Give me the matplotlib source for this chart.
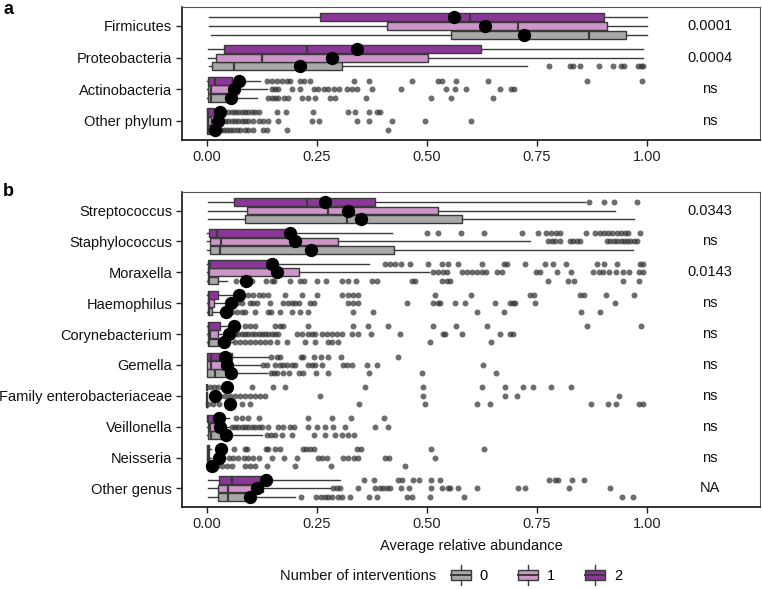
import matplotlib
matplotlib.use("Agg")
import matplotlib.pyplot as plt
from matplotlib.patches import Rectangle
from matplotlib.lines import Line2D
from matplotlib.legend_handler import HandlerBase

plt.rcParams['font.family'] = ['Liberation Sans', 'DejaVu Sans']

groups = ["0", "1", "2"]
group_colors = ["#A8A8A8", "#CE95C9", "#8B3797"]

# ---------------- panel a data (columns = groups 0, 1, 2) ----------------
a_categories = ["Firmicutes", "Proteobacteria", "Actinobacteria", "Other phylum"]
a_pvalues = ["0.0001", "0.0004", "ns", "ns"]
a_wlo = [[0.009, 0.005, 0.005], [0.005, 0.002, 0.002], [0.0, 0.0, 0.0], [0.0, 0.0, 0.0]]
a_q1 = [[0.555, 0.409, 0.257], [0.012, 0.020, 0.039], [0.002, 0.002, 0.002], [0.0, 0.0, 0.0]]
a_med = [[0.868, 0.707, 0.598], [0.062, 0.124, 0.227], [0.009, 0.009, 0.018], [0.002, 0.003, 0.002]]
a_q3 = [[0.952, 0.909, 0.902], [0.307, 0.502, 0.622], [0.048, 0.050, 0.056], [0.010, 0.010, 0.016]]
a_whi = [[1.0, 1.0, 1.0], [0.727, 0.99, 0.99], [0.113, 0.136, 0.12], [0.03, 0.03, 0.04]]
a_mean = [[0.720, 0.632, 0.561], [0.211, 0.285, 0.341], [0.055, 0.062, 0.073], [0.018, 0.024, 0.030]]
a_out = [
    [[], [], []],
    [[0.777, 0.825, 0.833, 0.848, 0.891, 0.923, 0.940, 0.948, 0.980, 0.986, 0.992], [], []],
    [[0.139, 0.147, 0.155, 0.162, 0.174, 0.185, 0.215, 0.230, 0.245, 0.280, 0.291, 0.361, 0.509, 0.554, 0.651],
     [0.147, 0.155, 0.162, 0.192, 0.211, 0.242, 0.253, 0.265, 0.276, 0.288, 0.299, 0.318, 0.329, 0.340, 0.374,
      0.440, 0.543, 0.564, 0.589, 0.667, 0.691, 0.698],
     [0.136, 0.147, 0.158, 0.170, 0.181, 0.189, 0.211, 0.220, 0.234, 0.333, 0.367, 0.467, 0.524, 0.535, 0.567,
      0.638, 0.863, 0.988]],
    [[0.031, 0.038, 0.045, 0.053, 0.060, 0.068, 0.075, 0.086, 0.094, 0.105, 0.128, 0.136, 0.181, 0.412],
     [0.033, 0.041, 0.048, 0.056, 0.064, 0.071, 0.079, 0.086, 0.094, 0.105, 0.117, 0.128, 0.139, 0.162, 0.239,
      0.254, 0.340, 0.367, 0.420, 0.495, 0.599],
     [0.048, 0.056, 0.064, 0.071, 0.079, 0.086, 0.094, 0.101, 0.109, 0.117, 0.159, 0.180, 0.240, 0.321, 0.336,
      0.367, 0.386, 0.393]],
]

# ---------------- panel b data (columns = groups 0, 1, 2) ----------------
b_categories = ["Streptococcus", "Staphylococcus", "Moraxella", "Haemophilus", "Corynebacterium",
                "Gemella", "Family enterobacteriaceae", "Veillonella", "Neisseria", "Other genus"]
b_pvalues = ["0.0343", "ns", "0.0143", "ns", "ns", "ns", "ns", "ns", "ns", "NA"]
b_wlo = [[0.002, 0.002, 0.002], [0.0, 0.0, 0.0], [0.0, 0.0, 0.0], [0.0, 0.0, 0.0], [0.0, 0.0, 0.0],
         [0.0, 0.0, 0.0], [0.0, 0.0, 0.0], [0.0, 0.0, 0.0], [0.0, 0.0, 0.0], [0.003, 0.003, 0.003]]
b_q1 = [[0.086, 0.090, 0.062], [0.007, 0.007, 0.005], [0.002, 0.003, 0.003], [0.002, 0.002, 0.002],
        [0.002, 0.002, 0.002], [0.0, 0.0, 0.0], [0.0, 0.0, 0.0], [0.002, 0.002, 0.0], [0.0, 0.0, 0.0],
        [0.024, 0.024, 0.028]]
b_med = [[0.317, 0.276, 0.227], [0.030, 0.032, 0.023], [0.004, 0.005, 0.007], [0.004, 0.005, 0.005],
         [0.005, 0.006, 0.005], [0.018, 0.010, 0.010], [0.0, 0.0, 0.0], [0.010, 0.006, 0.003],
         [0.001, 0.001, 0.001], [0.047, 0.047, 0.056]]
b_q3 = [[0.579, 0.524, 0.382], [0.425, 0.298, 0.181], [0.024, 0.208, 0.140], [0.012, 0.016, 0.024],
        [0.025, 0.025, 0.030], [0.050, 0.052, 0.057], [0.0, 0.0, 0.0], [0.032, 0.020, 0.015],
        [0.005, 0.005, 0.005], [0.088, 0.128, 0.123]]
b_whi = [[0.971, 0.927, 0.859], [0.969, 0.735, 0.420], [0.045, 0.505, 0.369], [0.040, 0.050, 0.060],
         [0.060, 0.060, 0.065], [0.136, 0.120, 0.139], [0.0, 0.0, 0.0], [0.124, 0.050, 0.050],
         [0.010, 0.010, 0.010], [0.200, 0.280, 0.302]]
b_mean = [[0.350, 0.321, 0.268], [0.236, 0.200, 0.189], [0.088, 0.158, 0.147], [0.042, 0.055, 0.073],
          [0.039, 0.050, 0.061], [0.055, 0.045, 0.041], [0.051, 0.018, 0.045], [0.042, 0.030, 0.026],
          [0.011, 0.026, 0.032], [0.098, 0.113, 0.134]]
b_out = [
    [[], [], [0.869, 0.902, 0.926, 0.977]],
    [[],
     [0.776, 0.784, 0.791, 0.802, 0.825, 0.832, 0.840, 0.848, 0.909, 0.917, 0.924, 0.932, 0.940, 0.947, 0.955,
      0.962, 0.970, 0.978],
     [0.499, 0.524, 0.577, 0.630, 0.717, 0.753, 0.770, 0.781, 0.793, 0.802, 0.861, 0.882, 0.893, 0.902, 0.912,
      0.921, 0.931, 0.940, 0.950, 0.958, 0.984]],
    [[0.065, 0.079, 0.094, 0.103, 0.133, 0.148, 0.153, 0.189, 0.211, 0.221, 0.249, 0.270, 0.306, 0.321, 0.339,
      0.374, 0.386, 0.465, 0.473, 0.533, 0.545, 0.552, 0.776, 0.820, 0.835, 0.945, 0.983],
     [0.514, 0.526, 0.537, 0.545, 0.579, 0.590, 0.602, 0.613, 0.624, 0.634, 0.658, 0.671, 0.748, 0.757, 0.796,
      0.827, 0.878, 0.892, 0.901, 0.914, 0.930, 0.946, 0.960, 0.982, 0.992],
     [0.405, 0.416, 0.427, 0.442, 0.461, 0.503, 0.533, 0.548, 0.571, 0.624, 0.674, 0.681, 0.723, 0.768, 0.787,
      0.816, 0.886, 0.903, 0.931, 0.984, 0.992]],
    [[0.056, 0.067, 0.079, 0.086, 0.108, 0.138, 0.145, 0.166, 0.192, 0.211, 0.230, 0.332, 0.378, 0.613, 0.676,
      0.850, 0.893],
     [0.067, 0.079, 0.098, 0.105, 0.113, 0.143, 0.173, 0.185, 0.192, 0.200, 0.208, 0.234, 0.242, 0.321, 0.332,
      0.344, 0.454, 0.514, 0.526, 0.530, 0.564, 0.586, 0.655, 0.689, 0.695, 0.700, 0.745, 0.927],
     [0.079, 0.094, 0.105, 0.117, 0.128, 0.139, 0.177, 0.215, 0.249, 0.306, 0.321, 0.332, 0.344, 0.518, 0.599,
      0.734, 0.744, 0.848, 0.857, 0.906, 0.971]],
    [[0.064, 0.075, 0.086, 0.098, 0.109, 0.120, 0.132, 0.143, 0.159, 0.181, 0.223, 0.245, 0.276, 0.283, 0.298,
      0.507, 0.645],
     [0.064, 0.071, 0.079, 0.086, 0.094, 0.102, 0.109, 0.117, 0.124, 0.132, 0.139, 0.147, 0.155, 0.162, 0.204,
      0.215, 0.230, 0.238, 0.245, 0.261, 0.272, 0.283, 0.295, 0.306, 0.329, 0.344, 0.373, 0.439, 0.537, 0.541,
      0.579, 0.666, 0.689, 0.695],
     [0.071, 0.086, 0.098, 0.108, 0.155, 0.166, 0.173, 0.230, 0.332, 0.365, 0.411, 0.514, 0.566, 0.636, 0.863,
      0.986]],
    [[0.145, 0.153, 0.160, 0.172, 0.187, 0.210, 0.218, 0.248, 0.276, 0.367, 0.489, 0.657],
     [0.128, 0.136, 0.155, 0.166, 0.173, 0.181, 0.192, 0.200, 0.230, 0.238, 0.245, 0.261, 0.310, 0.317, 0.329,
      0.363, 0.386, 0.627],
     [0.145, 0.158, 0.166, 0.214, 0.219, 0.242, 0.259, 0.276, 0.304, 0.433]],
    [[0.003, 0.014, 0.026, 0.079, 0.098, 0.346, 0.495, 0.614, 0.643, 0.872, 0.911, 0.930, 0.983, 0.992],
     [0.030, 0.041, 0.052, 0.064, 0.075, 0.086, 0.098, 0.109, 0.120, 0.132, 0.257, 0.490, 0.677, 0.705, 0.937],
     [0.007, 0.015, 0.025, 0.102, 0.149, 0.177, 0.359, 0.492, 0.626, 0.677, 0.719, 0.740, 0.783, 0.827]],
    [[0.136, 0.145, 0.155, 0.171, 0.192, 0.242, 0.268, 0.291, 0.306, 0.320, 0.333],
     [0.056, 0.064, 0.071, 0.079, 0.086, 0.094, 0.102, 0.109, 0.117, 0.124, 0.139, 0.161, 0.173, 0.189, 0.198,
      0.230, 0.249, 0.268, 0.287, 0.314, 0.382, 0.412],
     [0.065, 0.079, 0.092, 0.117, 0.230, 0.285, 0.327, 0.403]],
    [[0.022, 0.033, 0.045, 0.056, 0.086, 0.098, 0.109, 0.136, 0.200, 0.282, 0.449],
     [0.037, 0.049, 0.060, 0.071, 0.083, 0.094, 0.105, 0.117, 0.148, 0.176, 0.204, 0.253, 0.261, 0.272, 0.310,
      0.321, 0.333, 0.344, 0.405, 0.414, 0.519],
     [0.062, 0.086, 0.090, 0.133, 0.139, 0.155, 0.166, 0.219, 0.226, 0.234, 0.242, 0.340, 0.349, 0.508, 0.630]],
    [[0.214, 0.247, 0.259, 0.268, 0.276, 0.285, 0.297, 0.306, 0.325, 0.367, 0.386, 0.455, 0.467, 0.507, 0.584,
      0.944, 0.969],
     [0.287, 0.295, 0.302, 0.344, 0.382, 0.393, 0.401, 0.408, 0.416, 0.442, 0.458, 0.509, 0.533, 0.548, 0.552,
      0.571, 0.613, 0.706, 0.723, 0.823, 0.916],
     [0.357, 0.380, 0.433, 0.444, 0.468, 0.481, 0.509, 0.530, 0.777, 0.791, 0.797, 0.830, 0.857]],
]

x_ticks = [0.0, 0.25, 0.5, 0.75, 1.0]
x_ticklabels = ["0.00", "0.25", "0.50", "0.75", "1.00"]

EDGE = "#3a3a3a"
OFFSETS = [0.27, 0.0, -0.27]   # group 0 lowest, group 2 on top (axis is inverted later)
BOXW = 0.25


def draw_panel(ax, cats, pvals, wlo, q1, med, q3, whi, mean, outl):
    n = len(cats)
    for ci in range(n):
        for gi in range(3):
            y = ci + 1 + OFFSETS[gi]
            st = dict(med=med[ci][gi], q1=q1[ci][gi], q3=q3[ci][gi],
                      whislo=wlo[ci][gi], whishi=whi[ci][gi], fliers=outl[ci][gi])
            kw = dict(positions=[y], widths=BOXW, patch_artist=True, showcaps=False,
                      showfliers=True, manage_ticks=False,
                      boxprops=dict(facecolor=group_colors[gi], edgecolor=EDGE, linewidth=1.0),
                      medianprops=dict(color=EDGE, linewidth=1.6),
                      whiskerprops=dict(color=EDGE, linewidth=1.0),
                      flierprops=dict(marker='o', markerfacecolor='#333333', markeredgecolor='none',
                                      alpha=0.72, markersize=4.3))
            try:
                ax.bxp([st], orientation='horizontal', **kw)
            except TypeError:
                ax.bxp([st], vert=False, **kw)
    for ci in range(n):
        for gi in range(3):
            y = ci + 1 + OFFSETS[gi]
            ax.scatter([mean[ci][gi]], [y], s=92, color='black', zorder=6, linewidths=0)
        ax.text(1.143, ci + 1, pvals[ci], ha='center', va='center', fontsize=10.5, color='#111111')
    ax.set_ylim(n + 0.6, 0.4)
    ax.set_xlim(-0.057, 1.257)
    ax.set_yticks(range(1, n + 1))
    ax.set_yticklabels(cats, fontsize=10.5, color='#111111')
    ax.set_xticks(x_ticks)
    ax.set_xticklabels(x_ticklabels, fontsize=10.5, color='#222222')
    ax.tick_params(axis='both', length=4, width=1.0, color='#222222', pad=3)
    for side in ['left', 'bottom']:
        ax.spines[side].set_linewidth(1.2)
        ax.spines[side].set_color('#111111')
    for side in ['top', 'right']:
        ax.spines[side].set_linewidth(0.8)
        ax.spines[side].set_color('#555555')


fig = plt.figure(figsize=(7.62, 5.89), dpi=100)
ax_a = fig.add_axes([182 / 762, 1 - 140 / 589, 578 / 762, 133 / 589])
ax_b = fig.add_axes([182 / 762, 1 - 507 / 589, 578 / 762, 315 / 589])

draw_panel(ax_a, a_categories, a_pvalues, a_wlo, a_q1, a_med, a_q3, a_whi, a_mean, a_out)
draw_panel(ax_b, b_categories, b_pvalues, b_wlo, b_q1, b_med, b_q3, b_whi, b_mean, b_out)

ax_b.set_xlabel("Average relative abundance", fontsize=10.5, labelpad=6, color='#111111')

fig.text(3 / 762, 1 - 9 / 589, "a", fontsize=13, fontweight='bold', va='center', ha='left')
fig.text(3 / 762, 1 - 191 / 589, "b", fontsize=13, fontweight='bold', va='center', ha='left')


class BoxKeyHandler(HandlerBase):
    def create_artists(self, legend, orig_handle, xdescent, ydescent, width, height, fontsize, trans):
        color = orig_handle.get_facecolor()
        cx = width / 2 - xdescent
        bw = width
        bh = height * 0.95
        by = (height - bh) / 2 - ydescent
        rect = Rectangle((-xdescent, by), bw, bh, facecolor=color, edgecolor=EDGE,
                         linewidth=1.0, transform=trans)
        mid = by + bh / 2
        medl = Line2D([-xdescent, -xdescent + bw], [mid, mid], color=EDGE, linewidth=1.4, transform=trans)
        w1 = Line2D([cx, cx], [by + bh, by + bh + height * 0.45], color=EDGE, linewidth=1.0, transform=trans)
        w2 = Line2D([cx, cx], [by, by - height * 0.45], color=EDGE, linewidth=1.0, transform=trans)
        return [rect, medl, w1, w2]


handles = [Rectangle((0, 0), 1, 1, facecolor=c) for c in group_colors]
fig.text(280 / 762, 1 - 576 / 589, "Number of interventions", fontsize=10.5, va='center', ha='left',
         color='#111111')
leg = fig.legend(handles, groups, loc='center left', bbox_to_anchor=(448 / 762, 1 - 576 / 589),
                 ncol=3, frameon=False, fontsize=10.5, handler_map={Rectangle: BoxKeyHandler()},
                 handlelength=1.35, handleheight=0.75, handletextpad=0.6, columnspacing=2.1,
                 borderpad=0.2, borderaxespad=0)

fig.savefig("out.png", dpi=100)
